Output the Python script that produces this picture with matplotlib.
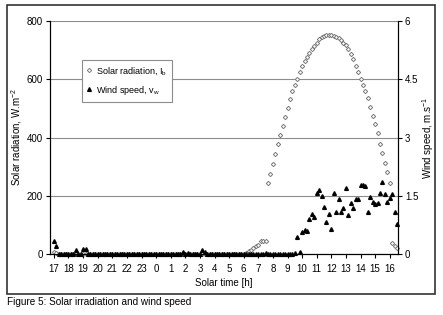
import numpy as np
import matplotlib
matplotlib.use("Agg")
import matplotlib.pyplot as plt
from matplotlib.lines import Line2D
from matplotlib.patches import Rectangle

plt.rcParams['font.family'] = ['Liberation Sans', 'DejaVu Sans']
plt.rcParams['mathtext.default'] = 'regular'

# 10-minute samples, starting 17:00 solar time
hour_labels = ['17', '18', '19', '20', '21', '22', '23', '0', '1', '2', '3', '4',
               '5', '6', '7', '8', '9', '10', '11', '12', '13', '14', '15', '16']
samples_per_hour = 6

# solar radiation, W/m2
solar = [
    8, 3, 0, 0, 0, 0, 0, 0, 0, 0, 0, 0,
    0, 0, 0, 0, 0, 0, 0, 0, 0, 0, 0, 0,
    0, 0, 0, 0, 0, 0, 0, 0, 0, 0, 0, 0,
    0, 0, 0, 0, 0, 0, 0, 0, 0, 0, 0, 0,
    0, 0, 0, 0, 0, 0, 0, 0, 0, 0, 0, 0,
    0, 0, 0, 0, 0, 0, 0, 0, 0, 0, 0, 0,
    0, 0, 0, 0, 0, 0, 1, 4, 9, 15, 21, 26,
    32, 45, 44, 46, 244, 275, 309, 343, 378, 409, 440, 471,
    501, 533, 560, 581, 601, 625, 646, 663, 677, 691, 704, 715,
    725, 739, 746, 749, 752, 753, 752, 749, 745, 741, 734, 726,
    716, 704, 688, 668, 647, 625, 602, 581, 558, 534, 505, 475,
    445, 414, 378, 347, 313, 280, 244, 38, 26, 21,
]

# wind speed, m/s
wind = [
    0.33, 0.20, 0, 0, 0, 0, 0, 0, 0, 0.10, 0, 0,
    0.12, 0.12, 0, 0, 0, 0, 0, 0, 0, 0, 0, 0,
    0, 0, 0, 0, 0, 0, 0, 0, 0, 0, 0, 0,
    0, 0, 0, 0, 0, 0, 0, 0, 0, 0, 0, 0,
    0, 0, 0, 0, 0, 0.04, 0, 0.03, 0, 0, 0, 0,
    0, 0.10, 0.06, 0, 0, 0, 0, 0, 0, 0, 0, 0,
    0, 0, 0, 0, 0, 0, 0, 0, 0, 0, 0, 0,
    0, 0, 0, 0.03, 0, 0, 0, 0, 0, 0, 0, 0,
    0, 0, 0, 0.02, 0.43, 0.06, 0.57, 0.62, 0.60, 0.90, 1.03, 0.95,
    1.57, 1.65, 1.50, 1.21, 0.82, 1.03, 0.64, 1.57, 1.08, 1.42, 1.08, 1.18,
    1.70, 1.00, 1.31, 1.18, 1.42, 1.42, 1.78, 1.78, 1.75, 1.08, 1.47, 1.34,
    1.29, 1.31, 1.57, 1.85, 1.54, 1.35, 1.45, 1.55, 1.08, 0.77,
]

x = np.arange(len(solar))

fig = plt.figure(figsize=(4.43, 3.15), dpi=100)
ax = fig.add_axes([50 / 443, 1 - 254 / 315, 348 / 443, 233 / 315])
ax2 = ax.twinx()

ax.plot(x, solar, ls='none', marker='D', ms=2.2, mfc='white', mec='#7a7a7a',
        mew=0.7, clip_on=False, zorder=3)
ax2.plot(x, wind, ls='none', marker='^', ms=2.7, color='black',
         clip_on=False, zorder=4)

ax.set_xlim(-1.6, len(solar) - 0.6)
ax.set_ylim(0, 800)
ax2.set_ylim(0, 6)

ax.set_yticks([0, 200, 400, 600, 800])
ax2.set_yticks([0, 1.5, 3, 4.5, 6])
ax2.set_yticklabels(['0', '1.5', '3', '4.5', '6'])
ax.set_xticks(np.arange(len(hour_labels)) * samples_per_hour)
ax.set_xticklabels(hour_labels)

ax.yaxis.grid(True, color='#8c8c8c', lw=0.8)
ax.set_axisbelow(True)
for a in (ax, ax2):
    a.spines['top'].set_visible(False)
    for s in a.spines.values():
        s.set_linewidth(0.8)
    a.tick_params(direction='out', length=3, width=0.8, labelsize=7)
ax.tick_params(axis='x', pad=4.5)
ax.tick_params(axis='y', pad=2)
ax2.tick_params(axis='y', pad=2)

ax.set_xlabel('Solar time [h]', fontsize=7)
ax.xaxis.set_label_coords(0.5, -0.105)
ax.set_ylabel('Solar radiation, W.m$^{-2}$', fontsize=7)
ax.yaxis.set_label_coords(-0.075, 0.5)
ax2.set_ylabel('Wind speed, m.s$^{-1}$', fontsize=7)
ax2.yaxis.set_label_coords(1.065, 0.5)

handles = [
    Line2D([], [], ls='none', marker='D', ms=2.2, mfc='white', mec='#7a7a7a', mew=0.7),
    Line2D([], [], ls='none', marker='^', ms=2.7, color='black'),
]
leg = ax2.legend(handles, ['Solar radiation, I$_b$', 'Wind speed, v$_w$'],
                 loc='upper left', bbox_to_anchor=(0.092, 0.833), borderaxespad=0,
                 fontsize=6.5, fancybox=False, framealpha=1, edgecolor='#8c8c8c',
                 handlelength=0.5, handletextpad=0.5, borderpad=0.55, labelspacing=0.75)
leg.get_frame().set_linewidth(0.8)

fig.patches.append(Rectangle((7 / 443, 1 - 294 / 315), 428 / 443, 289 / 315,
                             transform=fig.transFigure, fill=False,
                             edgecolor='#333333', lw=1.2))
fig.text(7 / 443, 1 - 302 / 315, 'Figure 5: Solar irradiation and wind speed',
         fontsize=7.2, va='center', ha='left')

fig.savefig('out.png', dpi=100)
